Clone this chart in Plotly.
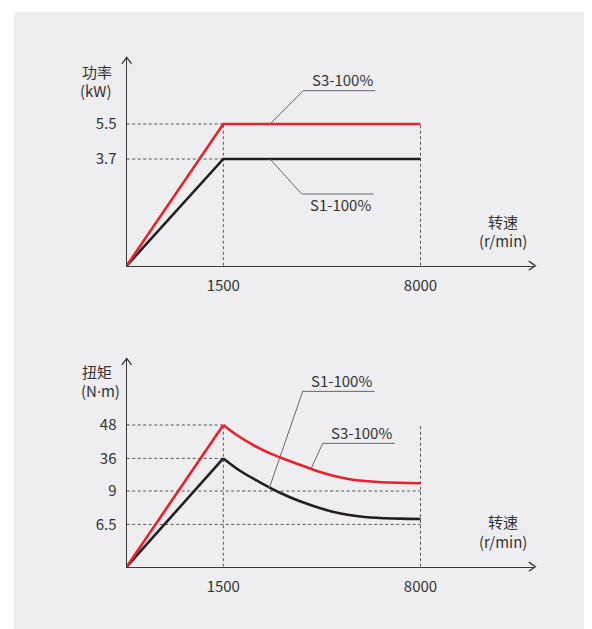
import numpy as np
import plotly.graph_objects as go

# page body has an 8px margin -> figure is 8px smaller on each axis
OFF = 8
W, H = 592 - OFF, 629 - OFF
FONT = "Noto Sans CJK SC"

# ---------------- data ----------------
speed_ticks = [1500, 8000]
speed_tick_labels = ["1500", "8000"]

# power chart
power_speed = [0, 1500, 8000]
power_s1 = [0, 3.7, 3.7]
power_s3 = [0, 5.5, 5.5]
power_ticks = [3.7, 5.5]
power_tick_labels = ["3.7", "5.5"]

# torque chart (schematic values)
torque_rise_speed = [0, 1500]
torque_s1_rise = [0, 36]
torque_s3_rise = [0, 48]
torque_s1_speed = [1500, 2050, 2710, 3369, 4029, 5073, 6170, 7328, 8000]
torque_s1 = [36, 25.8, 16.2, 8.87, 8.23, 7.47, 7.05, 6.93, 6.90]
torque_s3_speed = [1500, 1942, 2489, 3039, 3590, 4137, 4687, 5620, 6721, 8000]
torque_s3 = [48, 44.4, 40.8, 37.8, 34.7, 29.7, 24.7, 18.9, 16.2, 15.4]
torque_ticks = [6.5, 9, 36, 48]
torque_tick_labels = ["6.5", "9", "36", "48"]

# ---------------- schematic scales (non-linear diagram axes) ----------------
SPEED_IN, SPEED_OUT = [0, 1500, 8000], [0, 96.6, 293.8]
POWER_IN, POWER_OUT = [0, 3.7, 5.5], [0, 106.7, 141.7]
TORQUE_IN, TORQUE_OUT = [0, 6.5, 9, 36, 48], [0, 42.3, 75.7, 108.3, 141.7]


def sx(v):
    return np.interp(v, SPEED_IN, SPEED_OUT)


def sp(v):
    return np.interp(v, POWER_IN, POWER_OUT)


def st(v):
    return np.interp(v, TORQUE_IN, TORQUE_OUT)


X_LEN = 408.6   # axis length incl. arrow
Y_LEN = 208.3

RED = "#e8212b"
BLACK = "#231f20"
GUIDE = "#555555"
AXIS = "#3a3a3a"
TXT = "#333333"

fig = go.Figure()


def guide(xs, ys, xa, ya):
    fig.add_trace(go.Scatter(x=xs, y=ys, mode="lines", xaxis=xa, yaxis=ya,
                             line=dict(color=GUIDE, width=1, dash="3px,2.5px"),
                             hoverinfo="skip", showlegend=False))


# ---- top: power guides
for p in power_ticks:
    guide(sx([0, 1500]), sp([p, p]), "x", "y")
for s in speed_ticks:
    guide(sx([s, s]), sp([0, max(power_s3)]), "x", "y")

# ---- bottom: torque guides
for t in [48, 36]:
    guide(sx([0, 1500]), st([t, t]), "x2", "y2")
for t in [9, 6.5]:
    guide(sx([0, 8000]), st([t, t]), "x2", "y2")
for s in speed_ticks:
    guide(sx([s, s]), st([0, 48]), "x2", "y2")


def curve(xs, ys, color, xa, ya, spline=False):
    line = dict(color=color, width=2.6)
    if spline:
        line.update(shape="spline", smoothing=1.0)
    fig.add_trace(go.Scatter(x=xs, y=ys, mode="lines", line=line, xaxis=xa, yaxis=ya,
                             showlegend=False, hoverinfo="skip"))


curve(sx(power_speed), sp(power_s1), BLACK, "x", "y")
curve(sx(power_speed), sp(power_s3), RED, "x", "y")
curve(sx(torque_rise_speed), st(torque_s1_rise), BLACK, "x2", "y2")
curve(sx(torque_s1_speed), st(torque_s1), BLACK, "x2", "y2", spline=True)
curve(sx(torque_rise_speed), st(torque_s3_rise), RED, "x2", "y2")
curve(sx(torque_s3_speed), st(torque_s3), RED, "x2", "y2", spline=True)

# ---------------- layout ----------------
def px_x(p):
    return (p - OFF) / W


def px_y(p):
    return 1 - (p - OFF) / H


ORIGIN_X = 126.7
TOP_Y0, BOT_Y0 = 265.7, 566.7

xdom = [px_x(ORIGIN_X), px_x(ORIGIN_X + X_LEN)]
ydom_top = [px_y(TOP_Y0), px_y(TOP_Y0 - Y_LEN)]
ydom_bot = [px_y(BOT_Y0), px_y(BOT_Y0 - Y_LEN)]

axfont = dict(family=FONT, size=15, color=TXT)
common_x = dict(range=[0, X_LEN], domain=xdom, showgrid=False, zeroline=False,
                showline=True, linecolor=AXIS, linewidth=1.4, ticks="",
                tickvals=list(sx(speed_ticks)), ticktext=speed_tick_labels,
                tickfont=axfont, ticklabelstandoff=6, fixedrange=True)
common_y = dict(range=[0, Y_LEN], showgrid=False, zeroline=False,
                showline=True, linecolor=AXIS, linewidth=1.4, ticks="",
                tickfont=axfont, ticklabelstandoff=6, fixedrange=True)

fig.update_layout(
    width=W, height=H, margin=dict(l=0, r=0, t=0, b=0),
    paper_bgcolor="white", plot_bgcolor="rgba(0,0,0,0)",
    showlegend=False, hovermode=False,
    font=dict(family=FONT, color=TXT, size=15),
    xaxis=dict(anchor="y", **common_x),
    yaxis=dict(anchor="x", domain=ydom_top, tickvals=list(sp(power_ticks)),
               ticktext=power_tick_labels, **common_y),
    xaxis2=dict(anchor="y2", **common_x),
    yaxis2=dict(anchor="x2", domain=ydom_bot, tickvals=list(st(torque_ticks)),
                ticktext=torque_tick_labels, **common_y),
)

shapes = []
# background panel
shapes.append(dict(type="rect", xref="paper", yref="paper", x0=px_x(14), x1=1,
                   y0=0, y1=px_y(12), fillcolor="#eeeef0", line=dict(width=0),
                   layer="below"))

# arrow heads (open chevrons) in paper space so they are not clipped
for y0 in (TOP_Y0, BOT_Y0):
    tipx, tipy = ORIGIN_X, y0 - Y_LEN
    shapes.append(dict(type="path", xref="paper", yref="paper", layer="above",
                       path=(f"M {px_x(tipx-4.8)},{px_y(tipy+6.5)} L {px_x(tipx)},{px_y(tipy)} "
                             f"L {px_x(tipx+4.8)},{px_y(tipy+6.5)}"),
                       line=dict(color=AXIS, width=1.4)))
    tipx, tipy = ORIGIN_X + X_LEN, y0
    shapes.append(dict(type="path", xref="paper", yref="paper", layer="above",
                       path=(f"M {px_x(tipx-6.5)},{px_y(tipy-4.6)} L {px_x(tipx)},{px_y(tipy)} "
                             f"L {px_x(tipx-6.5)},{px_y(tipy+4.6)}"),
                       line=dict(color=AXIS, width=1.4)))

annotations = []


def callout(xa, ya, ax, ay, dx, dy, text):
    """leader line from a point on a curve to an elbow, then a horizontal
    line with the label sitting on / under it."""
    ex, ey = ax + dx, ay + dy
    shapes.append(dict(type="path", xref=xa, yref=ya, layer="above",
                       path=f"M {ax},{ay} L {ex},{ey} L {ex+72},{ey}",
                       line=dict(color="#666666", width=1)))
    ty = ey + 11 if dy > 0 else ey - 11
    annotations.append(dict(x=ex + 39, y=ty, xref=xa, yref=ya, text=text,
                            showarrow=False, xanchor="center", yanchor="middle",
                            font=dict(family=FONT, size=15, color=TXT)))


callout("x", "y", float(sx(3040)), float(sp(5.5)), 33.3, 33.3, "S3-100%")
callout("x", "y", float(sx(3040)), float(sp(3.7)), 31.7, -35, "S1-100%")
callout("x2", "y2", float(sx(3016)), float(st(11.5)), 33.4, 96.6, "S1-100%")
callout("x2", "y2", float(sx(4381)), float(st(26.9)), 12, 26, "S3-100%")


def label(xp, yp, text):
    annotations.append(dict(x=px_x(xp), y=px_y(yp), xref="paper", yref="paper",
                            text=text, showarrow=False, xanchor="center",
                            yanchor="middle", font=dict(family=FONT, size=15, color=TXT)))


label(96.7, 71, "功率")
label(96.0, 90.5, "(kW)")
label(502.5, 221.5, "转速")
label(503.0, 240.5, "(r/min)")
label(96.7, 371, "扭矩")
label(100.0, 390, "(N<span style=\"font-family:'Noto Sans'\">·</span>m)")
label(502.5, 521.5, "转速")
label(503.0, 541.5, "(r/min)")

fig.update_layout(shapes=shapes, annotations=annotations)

fig.write_html("out.html")
